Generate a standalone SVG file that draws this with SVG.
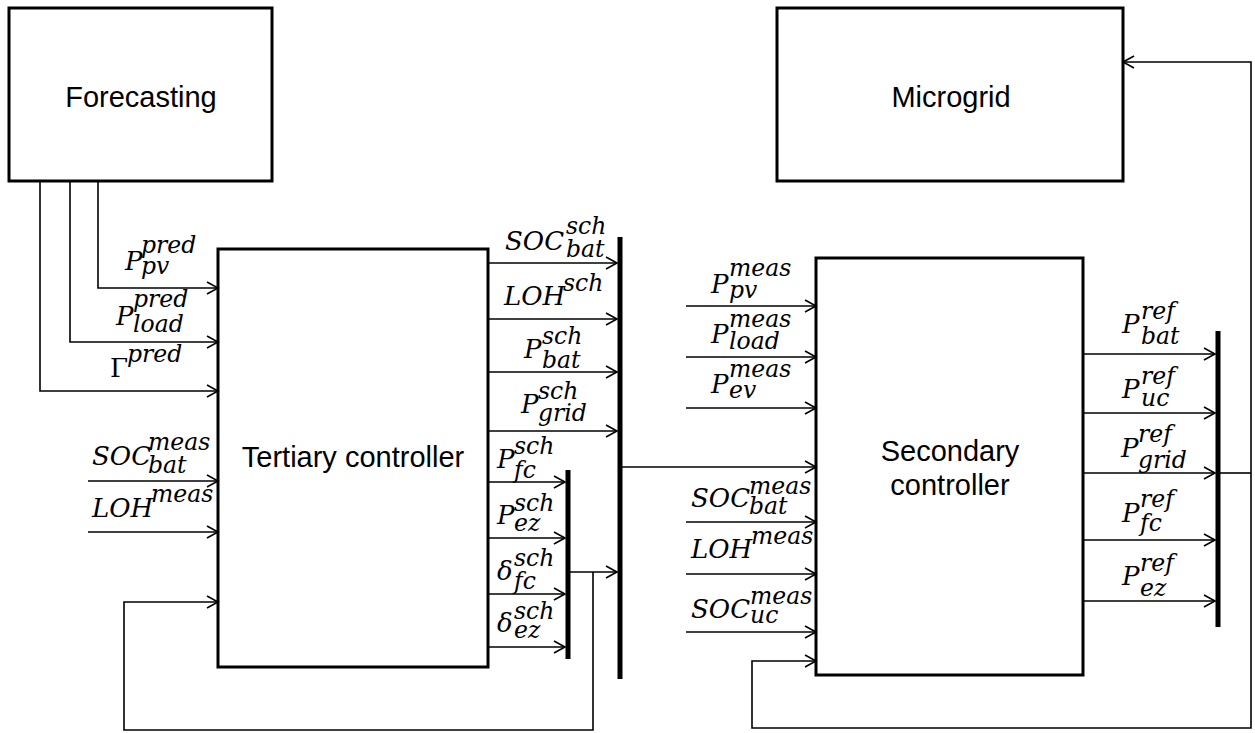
<svg xmlns="http://www.w3.org/2000/svg" width="1255" height="733" viewBox="0 0 1255 733">
<style>
.box{fill:#fff;stroke:#000;stroke-width:3}
.bus{stroke:#000;stroke-width:5;fill:none}
.c{stroke:#000;stroke-width:1.6;fill:none}
.a{marker-end:url(#arr)}
.t{font-family:"Liberation Sans",Arial,sans-serif;font-size:29px;fill:#000;text-anchor:middle}
.m{font-family:"DejaVu Serif",serif;font-style:italic;font-size:26px;fill:#000}
.s{font-size:23.5px}
.up{font-style:normal}
</style>
<defs>
<marker id="arr" markerUnits="userSpaceOnUse" markerWidth="14" markerHeight="16" refX="12" refY="7" orient="auto" viewBox="0 0 14 16">
<path d="M1,1 L12,7 L1,13" fill="none" stroke="#000" stroke-width="1.6"/>
</marker>
</defs>
<g id="forecasting"><rect class="box" x="9" y="8" width="263" height="173"/><text class="t" x="141" y="107">Forecasting</text></g>
<g id="microgrid"><rect class="box" x="777" y="8" width="346" height="173"/><text class="t" x="951" y="107">Microgrid</text></g>
<g id="tertiary"><rect class="box" x="218" y="249" width="270" height="418"/><text class="t" x="353" y="467">Tertiary controller</text></g>
<g id="secondary"><rect class="box" x="816" y="258" width="267" height="417"/><text class="t" x="950" y="461">Secondary</text><text class="t" x="950" y="495">controller</text></g>
<g id="bus-sch"><line class="bus" x1="620" y1="237" x2="620" y2="679"/></g>
<g id="bus-sch-small"><line class="bus" x1="568" y1="470" x2="568" y2="659"/></g>
<g id="bus-ref"><line class="bus" x1="1218" y1="331" x2="1218" y2="627"/></g>
<g id="connectors">
<polyline class="c a" points="98,181 98,288 218,288"/>
<polyline class="c a" points="70,181 70,342 218,342"/>
<polyline class="c a" points="40,181 40,391 218,391"/>
<line class="c a" x1="88" y1="481" x2="218" y2="481"/>
<line class="c a" x1="88" y1="532" x2="218" y2="532"/>
<polyline class="c a" points="593,572 593,730 124,730 124,602 218,602"/>
<line class="c a" x1="488" y1="263" x2="617" y2="263"/>
<line class="c a" x1="488" y1="319" x2="617" y2="319"/>
<line class="c a" x1="488" y1="372" x2="617" y2="372"/>
<line class="c a" x1="488" y1="431" x2="617" y2="431"/>
<line class="c a" x1="488" y1="482" x2="565" y2="482"/>
<line class="c a" x1="488" y1="538" x2="565" y2="538"/>
<line class="c a" x1="488" y1="594" x2="565" y2="594"/>
<line class="c a" x1="488" y1="647" x2="565" y2="647"/>
<line class="c a" x1="570" y1="572" x2="617" y2="572"/>
<line class="c a" x1="622" y1="467" x2="816" y2="467"/>
<line class="c a" x1="686" y1="306" x2="816" y2="306"/>
<line class="c a" x1="686" y1="357" x2="816" y2="357"/>
<line class="c a" x1="686" y1="408" x2="816" y2="408"/>
<line class="c a" x1="686" y1="522" x2="816" y2="522"/>
<line class="c a" x1="686" y1="574" x2="816" y2="574"/>
<line class="c a" x1="686" y1="632" x2="816" y2="632"/>
<polyline class="c a" points="1251,473 1251,728 752,728 752,661 816,661"/>
<line class="c a" x1="1083" y1="354" x2="1215" y2="354"/>
<line class="c a" x1="1083" y1="413" x2="1215" y2="413"/>
<line class="c a" x1="1083" y1="473" x2="1215" y2="473"/>
<line class="c a" x1="1083" y1="540" x2="1215" y2="540"/>
<line class="c a" x1="1083" y1="601" x2="1215" y2="601"/>
<polyline class="c" points="1220,473 1251,473"/>
<polyline class="c a" points="1251,473 1251,62 1123,62"/>
</g>
<g id="labels">
<text class="m"><tspan x="125" y="270">P</tspan><tspan class="s" x="141" y="253">pred</tspan><tspan class="s" x="141" y="274">pv</tspan></text>
<text class="m"><tspan x="116" y="325">P</tspan><tspan class="s" x="133" y="307">pred</tspan><tspan class="s" x="133" y="332">load</tspan></text>
<text class="m"><tspan class="up" x="110" y="377">Γ</tspan><tspan class="s" x="127" y="362">pred</tspan></text>
<text class="m"><tspan x="92" y="465">SOC</tspan><tspan class="s" x="148" y="450">meas</tspan><tspan class="s" x="148" y="473">bat</tspan></text>
<text class="m"><tspan x="92" y="517">LOH</tspan><tspan class="s" x="151" y="502">meas</tspan></text>
<text class="m"><tspan x="505" y="250">SOC</tspan><tspan class="s" x="566" y="234">sch</tspan><tspan class="s" x="566" y="257">bat</tspan></text>
<text class="m"><tspan x="504" y="305">LOH</tspan><tspan class="s" x="563" y="291">sch</tspan></text>
<text class="m"><tspan x="524" y="358">P</tspan><tspan class="s" x="542" y="344">sch</tspan><tspan class="s" x="542" y="368">bat</tspan></text>
<text class="m"><tspan x="521" y="413">P</tspan><tspan class="s" x="538" y="399">sch</tspan><tspan class="s" x="538" y="421">grid</tspan></text>
<text class="m"><tspan x="497" y="468">P</tspan><tspan class="s" x="514" y="454">sch</tspan><tspan class="s" x="514" y="478">fc</tspan></text>
<text class="m"><tspan x="497" y="524">P</tspan><tspan class="s" x="514" y="511">sch</tspan><tspan class="s" x="514" y="531">ez</tspan></text>
<text class="m"><tspan x="497" y="580">δ</tspan><tspan class="s" x="514" y="566">sch</tspan><tspan class="s" x="514" y="589">fc</tspan></text>
<text class="m"><tspan x="497" y="632">δ</tspan><tspan class="s" x="514" y="619">sch</tspan><tspan class="s" x="514" y="638">ez</tspan></text>
<text class="m"><tspan x="711" y="293">P</tspan><tspan class="s" x="729" y="276">meas</tspan><tspan class="s" x="729" y="298">pv</tspan></text>
<text class="m"><tspan x="711" y="343">P</tspan><tspan class="s" x="729" y="327">meas</tspan><tspan class="s" x="729" y="349">load</tspan></text>
<text class="m"><tspan x="711" y="393">P</tspan><tspan class="s" x="729" y="377">meas</tspan><tspan class="s" x="729" y="398">ev</tspan></text>
<text class="m"><tspan x="691" y="507">SOC</tspan><tspan class="s" x="749" y="494">meas</tspan><tspan class="s" x="749" y="514">bat</tspan></text>
<text class="m"><tspan x="691" y="558">LOH</tspan><tspan class="s" x="751" y="544">meas</tspan></text>
<text class="m"><tspan x="691" y="618">SOC</tspan><tspan class="s" x="750" y="604">meas</tspan><tspan class="s" x="750" y="623">uc</tspan></text>
<text class="m"><tspan x="1122" y="333">P</tspan><tspan class="s" x="1141" y="319">ref</tspan><tspan class="s" x="1141" y="344">bat</tspan></text>
<text class="m"><tspan x="1122" y="398">P</tspan><tspan class="s" x="1141" y="384">ref</tspan><tspan class="s" x="1141" y="406">uc</tspan></text>
<text class="m"><tspan x="1121" y="457">P</tspan><tspan class="s" x="1138" y="442">ref</tspan><tspan class="s" x="1138" y="468">grid</tspan></text>
<text class="m"><tspan x="1122" y="522">P</tspan><tspan class="s" x="1140" y="507">ref</tspan><tspan class="s" x="1140" y="531">fc</tspan></text>
<text class="m"><tspan x="1122" y="585">P</tspan><tspan class="s" x="1140" y="571">ref</tspan><tspan class="s" x="1140" y="596">ez</tspan></text>
</g>
</svg>
